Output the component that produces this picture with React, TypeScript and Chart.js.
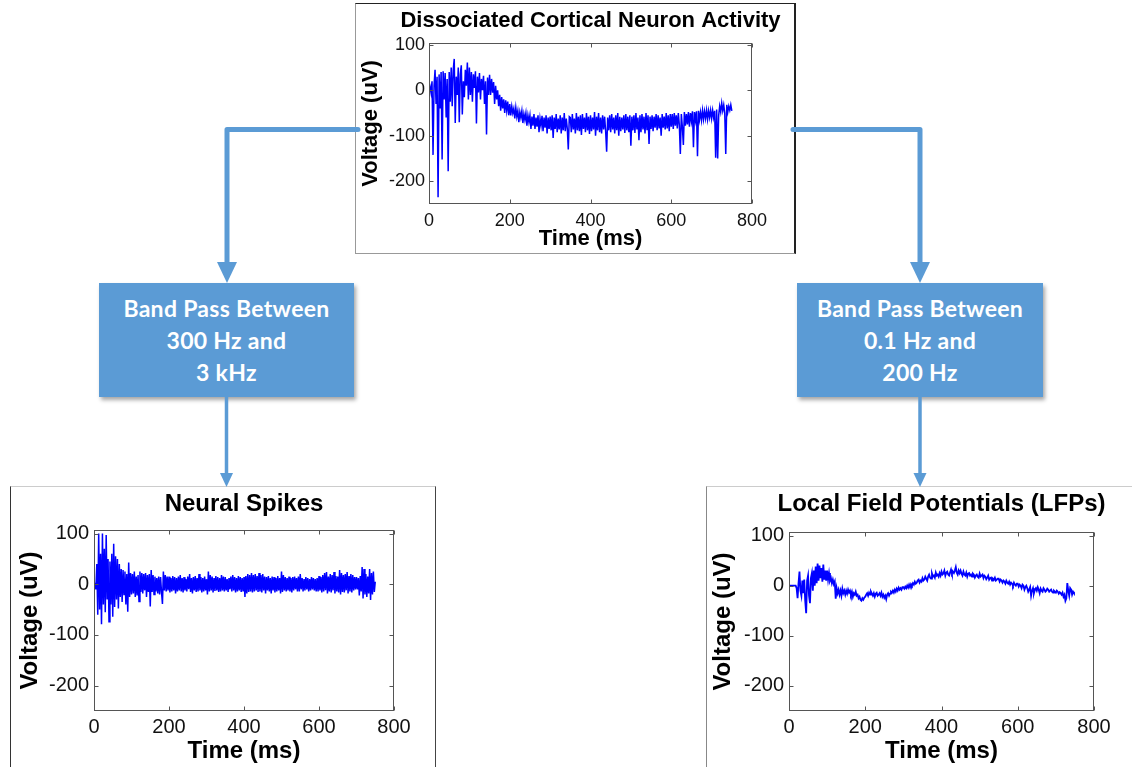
import React, { useEffect, useRef } from 'react';
import { Chart, registerables } from 'chart.js';

Chart.register(...registerables);
Chart.defaults.font.family = '"Liberation Sans", Arial, sans-serif';

// ---- data ----
const RAW_STEP_MS = 2.5; // sampling interval of the raw trace
const SPIKES_STEP_MS = 2.5; // sampling interval of the spike trace
const LFP_STEP_MS = 2.5; // sampling interval of the LFP trace
const X_TICKS = [0, 200, 400, 600, 800];
const Y_TICKS = [-200, -100, 0, 100];
const X_LABEL = 'Time (ms)';
const Y_LABEL = 'Voltage (uV)';

const RAW_TITLE = 'Dissociated Cortical Neuron Activity';
const RAW_UV = [
  0, 8, -5, 20, -142, 10, 45, -30, 30, -235, 35, -40, 40, -152, 42, -20, 38, -60, 25, -178,
  40, -25, 50, -35, 45, 69, -72, 30, -10, 50, -70, 35, 55, -53, 20, -15, 45, 10, 61, -20,
  50, -10, 40, -25, 35, 5, 42, -73, 30, -5, 38, -20, 25, 0, 32, -30, 20, -97, 28, -10,
  34, -10, 25, -5, 18, -30, 10, -20, 0, -35, -10, -45, -15, -40, -20, -50, -22, -45, -25, -55,
  -30, -55, -35, -50, -40, -62, -38, -58, -45, -70, -48, -60, -45, -72, -52, -65, -50, -78, -55, -70,
  -55, -85, -58, -78, -52, -85, -60, -80, -55, -92, -62, -78, -56, -90, -60, -82, -55, -95, -60, -85,
  -58, -88, -55, -105, -60, -85, -52, -92, -62, -86, -55, -95, -60, -88, -50, -90, -62, -84, -130, -58,
  -60, -92, -52, -86, -62, -95, -50, -88, -58, -90, -55, -98, -52, -85, -60, -92, -50, -88, -58, -96,
  -55, -90, -60, -86, -48, -100, -58, -88, -50, -92, -60, -95, -55, -86, -58, -90, -135, -60, -88, -55,
  -92, -52, -86, -60, -95, -55, -88, -50, -100, -58, -90, -60, -86, -55, -94, -52, -88, -58, -92, -55,
  -122, -58, -88, -55, -94, -50, -86, -60, -110, -55, -92, -52, -86, -58, -95, -50, -88, -55, -118, -58,
  -85, -55, -90, -58, -82, -52, -88, -55, -84, -60, -100, -52, -82, -58, -86, -50, -84, -55, -90, -52,
  -80, -52, -85, -50, -78, -55, -84, -50, -76, -140, -52, -80, -120, -48, -78, -52, -75, -48, -80, -50,
  -68, -46, -125, -48, -66, -46, -145, -45, -65, -48, -66, -44, -64, -46, -62, -44, -64, -45, -60, -44,
  -62, -44, -60, -45, -148, -42, -150, -55, -35, -48, -28, -45, -32, -50, -140, -32, -48, -35, -44, -32,
  -45,
];

const SPIKES_TITLE = 'Neural Spikes';
const SPIKES_UV = [
  0, 3, -10, 40, -60, 100, -50, 60, -79, 100, -40, 70, -55, 97, -30, 50, -74, 45, -40, 60,
  -64, 80, -45, 55, -30, 50, -48, 40, -25, 30, -35, 28, -20, 25, -40, 20, -54, 43, -25, 22,
  -20, 20, -18, 25, -25, 15, -22, 18, -34, 25, -15, 22, -18, 20, -12, 22, -25, 18, -15, 20,
  -44, 28, -15, 18, -20, 15, -14, 12, -18, 15, -20, 14, -15, -39, 25, -12, 18, -14, 15, -12,
  15, -16, 12, -14, 16, -12, 14, -18, 12, -14, 15, -12, 18, -14, 12, -16, 14, -12, 10, -14,
  15, -10, 20, -15, 12, -18, 14, -12, 16, -15, 12, -14, 20, -12, 14, -16, 12, -14, 15, -12,
  10, -20, 25, -14, 18, -12, 15, -16, 12, -13, 16, -12, 14, -15, 12, -14, 18, -12, 15, -14,
  14, -12, 10, -15, 12, -10, 15, -14, 18, -12, 14, -16, 12, -14, 16, -12, 14, -15, 12, -14,
  14, -25, 16, -18, 20, -15, 18, -14, 22, -16, 18, -14, 20, -12, 16, -15, 22, -14, 18, -16,
  20, -12, 15, -18, 14, -12, 16, -14, 12, -18, 15, -12, 14, -16, 12, -14, 16, -12, 12, -18,
  25, -15, 18, -12, 14, -14, 12, -12, 15, -14, 12, -16, 14, -12, 15, -10, 12, -14, 15, -14,
  20, -10, 12, -14, 10, -12, 14, -10, 12, -14, 10, -12, 14, -10, 12, -12, 10, -14, 12, -14,
  16, -12, 14, -16, 18, -14, 22, -12, 24, -18, 15, -14, 20, -16, 18, -12, 24, -18, 16, -14,
  15, -16, 28, -20, 22, -15, 18, -16, 20, -12, 24, -18, 16, -14, 20, -16, 18, -12, 14, -10,
  14, -10, 12, -22, 16, -14, 34, -28, 30, -20, 20, -25, 15, -18, 30, -31, 22, -20, 25, -15,
  5,
];

const LFP_TITLE = 'Local Field Potentials (LFPs)';
const LFP_UV = [
  0, 0, 0, 0, 0, 0, 0, 0, -5, -25, 5, 28, -10, -20, 10, -15, 12, -30, -55, 10,
  20, -20, -35, 15, 25, -10, 30, 0, 38, 5, 44, 10, 40, 15, 35, 8, 42, 12, 30, 10,
  30, 12, 25, 10, 15, 5, 12, 3, 8, -26, -5, -15, -8, -18, -10, -20, -6, -15, -10, -18,
  -10, -16, -8, -14, -10, -18, -12, -22, -15, -18, -12, -20, -18, -25, -22, -28, -30, -25, -28, -24,
  -22, -18, -15, -20, -14, -18, -12, -16, -20, -15, -22, -16, -14, -20, -18, -15, -20, -14, -22, -18,
  -24, -20, -27, -18, -15, -20, -16, -12, -14, -10, -14, -8, -12, -6, -10, -4, -8, -5, -8, -3,
  -3, -6, -2, -5, 0, -4, 2, -3, 3, 0, 5, 2, 8, 4, 6, 10, 12, 6, 10, 8,
  15, 10, 12, 18, 14, 10, 18, 22, 16, 14, 24, 18, 20, 16, 26, 20, 22, 18, 25, 20,
  28, 22, 24, 30, 20, 26, 28, 22, 20, 26, 32, 24, 28, 25, 30, 37, 26, 22, 30, 25,
  30, 24, 20, 28, 22, 20, 26, 18, 24, 25, 20, 22, 18, 24, 22, 16, 20, 22, 18, 16,
  24, 18, 20, 22, 15, 20, 18, 13, 16, 20, 12, 15, 16, 10, 14, 12, 16, 10, 12, 14,
  14, 8, 12, 10, 6, 10, 8, 4, 10, 6, 4, 8, 2, 6, 4, 0, 6, 2, 0, 4,
  4, -2, 2, 0, -5, 2, 0, -8, -3, 0, -5, -12, -8, -3, -20, -10, -5, -15, -8, -5,
  -10, -3, -8, -15, -6, -10, -12, -5, -8, -12, -10, -6, -8, -12, -10, -8, -12, -14, -10, -12,
  -14, -10, -12, -16, -13, -15, -18, -14, -22, -18, -30, -25, 5, -10, -20, -5, -8, -18, -12, -15,
  -15,
];

const LEFT_BOX_LINES = ['Band Pass Between', '300 Hz and', '3 kHz'];
const RIGHT_BOX_LINES = ['Band Pass Between', '0.1 Hz and', '200 Hz'];

// ---- plugin: MATLAB-like box, inward ticks, centered title ----
const matlabAxes = {
  id: 'matlabAxes',
  afterDraw(chart: any, _args: any, opts: any) {
    const { ctx, chartArea: a, scales } = chart;
    const x = scales.x;
    const y = scales.y;
    const L = 4;
    ctx.save();
    ctx.strokeStyle = '#555';
    ctx.lineWidth = 1;
    const l = Math.round(a.left) + 0.5;
    const r = Math.round(a.right) - 0.5;
    const t = Math.round(a.top) + 0.5;
    const b = Math.round(a.bottom) - 0.5;
    ctx.strokeRect(l, t, r - l, b - t);
    ctx.beginPath();
    for (const tk of x.ticks) {
      const px = Math.round(x.getPixelForValue(tk.value)) + 0.5;
      ctx.moveTo(px, b);
      ctx.lineTo(px, b - L);
      ctx.moveTo(px, t);
      ctx.lineTo(px, t + L);
    }
    for (const tk of y.ticks) {
      const py = Math.round(y.getPixelForValue(tk.value)) + 0.5;
      ctx.moveTo(l, py);
      ctx.lineTo(l + L, py);
      ctx.moveTo(r, py);
      ctx.lineTo(r - L, py);
    }
    ctx.stroke();
    ctx.fillStyle = '#000';
    ctx.font = `bold ${opts.titleSize}px "Liberation Sans", Arial, sans-serif`;
    ctx.textAlign = 'center';
    ctx.textBaseline = 'alphabetic';
    ctx.fillText(opts.title, (a.left + a.right) / 2, opts.titleBaseline);
    ctx.restore();
  },
};

type PanelProps = {
  values: number[];
  step: number;
  title: string;
  left: number;
  top: number;
  width: number;
  height: number;
  areaLeft: number;
  areaRight: number;
  areaTop: number;
  areaBottom: number;
  yMax: number;
  titleSize: number;
  titleBaseline: number;
  tickSize: number;
  axisSize: number;
  yTitleX: number;
  xTitleY: number;
  yTickPad: number;
  xTickPad: number;
  lineWidth: number;
};

function SignalPanel(p: PanelProps) {
  const ref = useRef<HTMLCanvasElement>(null);
  useEffect(() => {
    const canvas = ref.current;
    if (!canvas) return;
    const lh = p.axisSize * 1.2;
    const chart = new Chart(canvas, {
      type: 'line',
      data: {
        datasets: [
          {
            data: p.values.map((v, i) => ({ x: i * p.step, y: v })),
            borderColor: '#0000ff',
            borderWidth: p.lineWidth,
            pointRadius: 0,
            tension: 0,
            fill: false,
          },
        ],
      },
      options: {
        responsive: false,
        animation: false,
        devicePixelRatio: 1,
        layout: { padding: { left: 0, top: p.areaTop, right: p.width - p.areaRight, bottom: 0 } },
        plugins: {
          legend: { display: false },
          tooltip: { enabled: false },
          title: { display: false },
          matlabAxes: { title: p.title, titleSize: p.titleSize, titleBaseline: p.titleBaseline },
        } as any,
        scales: {
          x: {
            type: 'linear',
            min: 0,
            max: 800,
            afterBuildTicks: (s: any) => {
              s.ticks = X_TICKS.map((v) => ({ value: v }));
            },
            afterFit: (s: any) => {
              s.height = p.height - p.areaBottom;
            },
            grid: { display: false, drawTicks: false },
            border: { display: false },
            ticks: { padding: p.xTickPad, color: '#111', font: { size: p.tickSize }, maxRotation: 0, autoSkip: false },
            title: {
              display: true,
              text: X_LABEL,
              color: '#000',
              font: { size: p.axisSize, weight: 'bold', lineHeight: 1.2 },
              padding: { top: 0, bottom: p.height - p.xTitleY - lh / 2 },
            },
          },
          y: {
            type: 'linear',
            min: -250,
            max: p.yMax,
            afterBuildTicks: (s: any) => {
              s.ticks = Y_TICKS.map((v) => ({ value: v }));
            },
            afterFit: (s: any) => {
              s.width = p.areaLeft;
            },
            grid: { display: false, drawTicks: false },
            border: { display: false },
            ticks: { padding: p.yTickPad, color: '#111', font: { size: p.tickSize }, autoSkip: false },
            title: {
              display: true,
              text: Y_LABEL,
              color: '#000',
              font: { size: p.axisSize, weight: 'bold', lineHeight: 1.2 },
              padding: { top: p.yTitleX - lh / 2, bottom: 0 },
            },
          },
        } as any,
      },
      plugins: [matlabAxes as any],
    });
    return () => chart.destroy();
  }, []);
  return (
    <canvas
      ref={ref}
      width={p.width}
      height={p.height}
      style={{ position: 'absolute', left: p.left, top: p.top, width: p.width, height: p.height }}
    />
  );
}

const BLUE = '#5b9bd5';

function FilterBox({ left, top, width, height, lines }: { left: number; top: number; width: number; height: number; lines: string[] }) {
  return (
    <div
      style={{
        position: 'absolute',
        left,
        top,
        width,
        height,
        background: BLUE,
        boxShadow: '2px 3px 4px rgba(0,0,0,0.35)',
        color: '#fff',
        fontFamily: 'Lato, "Open Sans", sans-serif',
        fontWeight: 700,
        fontSize: 23,
        letterSpacing: '0.3px',
        lineHeight: '32px',
        textAlign: 'center',
        display: 'flex',
        flexDirection: 'column',
        justifyContent: 'center',
      }}
    >
      {lines.map((s) => (
        <div key={s}>{s}</div>
      ))}
    </div>
  );
}

export default function App() {
  return (
    <div
      style={{
        position: 'absolute',
        left: 0,
        top: 0,
        width: 1132,
        height: 767,
        overflow: 'hidden',
        background: '#fff',
      }}
    >
      {/* frames */}
      <div
        style={{
          position: 'absolute',
          left: 355,
          top: 3,
          width: 441,
          height: 251,
          boxSizing: 'border-box',
          borderTop: '1px solid #222',
          borderRight: '2px solid #222',
          borderBottom: '1px solid #999',
          borderLeft: '1px solid #999',
        }}
      />
      <div
        style={{
          position: 'absolute',
          left: 10,
          top: 486,
          width: 426,
          height: 300,
          boxSizing: 'border-box',
          borderTop: '1px solid #ccc',
          borderRight: '1px solid #444',
          borderLeft: '1px solid #333',
        }}
      />
      <div
        style={{
          position: 'absolute',
          left: 706,
          top: 486,
          width: 440,
          height: 300,
          boxSizing: 'border-box',
          borderTop: '1px solid #ccc',
          borderLeft: '1px solid #888',
        }}
      />

      <SignalPanel
        values={RAW_UV}
        step={RAW_STEP_MS}
        title={RAW_TITLE}
        left={356}
        top={4}
        width={439}
        height={249}
        areaLeft={73}
        areaRight={396}
        areaTop={39}
        areaBottom={200}
        yMax={104}
        titleSize={22}
        titleBaseline={23}
        tickSize={18}
        axisSize={22}
        yTitleX={15}
        xTitleY={235}
        yTickPad={4}
        xTickPad={6}
        lineWidth={1.5}
      />
      <SignalPanel
        values={SPIKES_UV}
        step={SPIKES_STEP_MS}
        title={SPIKES_TITLE}
        left={11}
        top={487}
        width={424}
        height={280}
        areaLeft={83}
        areaRight={383}
        areaTop={43}
        areaBottom={224}
        yMax={107}
        titleSize={24}
        titleBaseline={24}
        tickSize={20}
        axisSize={24}
        yTitleX={19}
        xTitleY={264}
        yTickPad={5}
        xTickPad={4}
        lineWidth={1.5}
      />
      <SignalPanel
        values={LFP_UV}
        step={LFP_STEP_MS}
        title={LFP_TITLE}
        left={707}
        top={487}
        width={425}
        height={280}
        areaLeft={82}
        areaRight={387}
        areaTop={45}
        areaBottom={224}
        yMax={107}
        titleSize={24}
        titleBaseline={24}
        tickSize={20}
        axisSize={24}
        yTitleX={16}
        xTitleY={264}
        yTickPad={5}
        xTickPad={4}
        lineWidth={1.8}
      />

      <FilterBox left={99} top={283} width={255} height={114} lines={LEFT_BOX_LINES} />
      <FilterBox left={797} top={283} width={246} height={114} lines={RIGHT_BOX_LINES} />

      <svg width={1132} height={767} style={{ position: 'absolute', left: 0, top: 0, pointerEvents: 'none' }}>
        <path d="M358 129.5 H227 V264" fill="none" stroke={BLUE} strokeWidth={5} strokeLinecap="round" strokeLinejoin="round" />
        <polygon points="217,262 237,262 227,283" fill={BLUE} />
        <path d="M793 129.5 H920 V264" fill="none" stroke={BLUE} strokeWidth={5} strokeLinecap="round" strokeLinejoin="round" />
        <polygon points="910,262 930,262 920,283" fill={BLUE} />
        <path d="M226.5 397 V475" fill="none" stroke={BLUE} strokeWidth={3.5} />
        <polygon points="220,473 233,473 226.5,487" fill={BLUE} />
        <path d="M920 397 V475" fill="none" stroke={BLUE} strokeWidth={3.5} />
        <polygon points="913.5,473 926.5,473 920,487" fill={BLUE} />
      </svg>
    </div>
  );
}
